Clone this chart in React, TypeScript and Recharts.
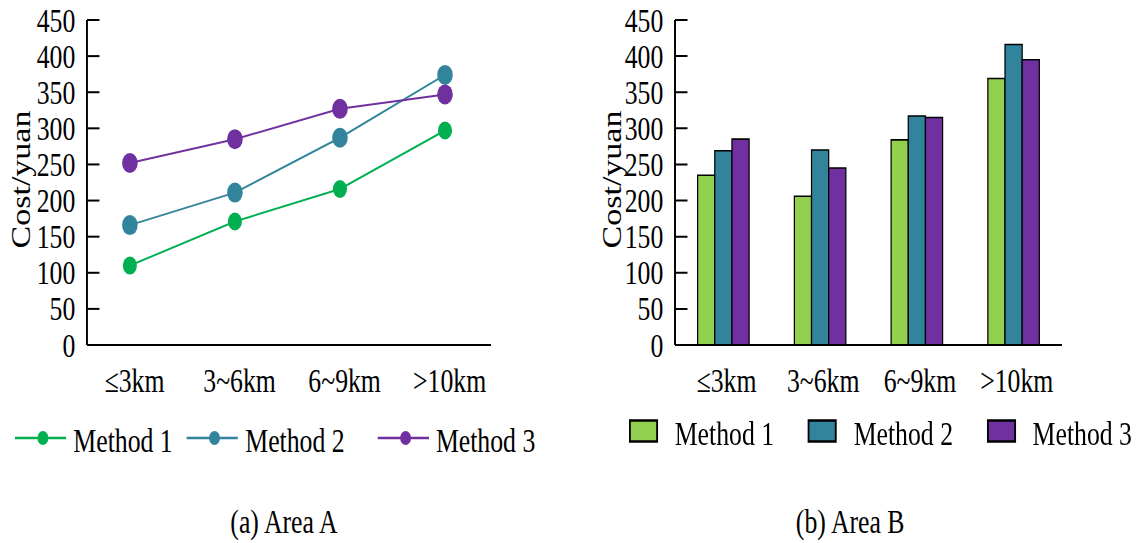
import React from 'react';
import { LineChart, Line, BarChart, Bar, XAxis, YAxis, Legend } from 'recharts';

const categories = ['≤3km', '3~6km', '6~9km', '>10km'];
const yTicks = [0, 50, 100, 150, 200, 250, 300, 350, 400, 450];
const seriesNames = ['Method 1', 'Method 2', 'Method 3'];

// Area A (line chart)
const areaA1 = [110, 171, 216, 297];
const areaA2 = [166, 211, 287, 374];
const areaA3 = [252, 285, 327, 347];

// Area B (bar chart)
const areaB1 = [235, 206, 284, 369];
const areaB2 = [269, 270, 317, 416];
const areaB3 = [285, 245, 315, 395];

const lineColors = ['#00b050', '#31849b', '#7030a0'];
const barColors = ['#92d050', '#31849b', '#7030a0'];
const dotSizes = [9, 10, 10];

const FONT = '"Liberation Serif", "Times New Roman", serif';
const SX = 0.78; // the original figure is squeezed horizontally
const FULL_W = 1136 / SX;

const dataA = categories.map((c, i) => ({ cat: c, m1: areaA1[i], m2: areaA2[i], m3: areaA3[i] }));
const dataB = categories.map((c, i) => ({ cat: c, m1: areaB1[i], m2: areaB2[i], m3: areaB3[i] }));
const keys = ['m1', 'm2', 'm3'];

const YTick = (props: any) => {
  const { x, y, payload } = props;
  return (
    <g>
      <line x1={x + 15} x2={x + 31} y1={y} y2={y} stroke="#000" strokeWidth={2} />
      <text x={x} y={y} dy="0.35em" textAnchor="end" fontSize={33} fontFamily={FONT} fill="#000">
        {payload.value}
      </text>
    </g>
  );
};

const XTick = (props: any) => {
  const { x, y, payload, dx = 0 } = props;
  return (
    <text x={x + dx} y={y + 47} textAnchor="middle" fontSize={33} fontFamily={FONT} fill="#000">
      {payload.value}
    </text>
  );
};

const YLabel = (props: any) => {
  const { viewBox, cx } = props;
  const x = viewBox.x + cx;
  const y = viewBox.y + viewBox.height / 2 - 3;
  return (
    <text
      x={x}
      y={y}
      dy="0.35em"
      transform={`rotate(-90, ${x}, ${y})`}
      textAnchor="middle"
      fontSize={34}
      fontFamily={FONT}
      fill="#000"
    >
      Cost/yuan
    </text>
  );
};

const LineLegend = () => (
  <div style={{ display: 'flex', alignItems: 'center', height: 38, fontFamily: FONT, fontSize: 33, color: '#000' }}>
    {seriesNames.map((n, i) => (
      <div key={n} style={{ display: 'flex', alignItems: 'center', marginRight: i === 0 ? 18 : 42 }}>
        <svg width={66} height={20}>
          <line x1={0} x2={66} y1={10} y2={10} stroke={lineColors[i]} strokeWidth={2.5} />
          <circle cx={36} cy={10} r={7} fill={lineColors[i]} />
        </svg>
        <span style={{ marginLeft: 9, position: 'relative', top: 3, whiteSpace: 'nowrap' }}>{n}</span>
      </div>
    ))}
  </div>
);

const BarLegend = () => (
  <div style={{ display: 'flex', alignItems: 'center', height: 38, fontFamily: FONT, fontSize: 33, color: '#000' }}>
    {seriesNames.map((n, i) => (
      <div key={n} style={{ display: 'flex', alignItems: 'center', marginRight: 43 }}>
        <svg width={38} height={24}>
          <rect x={1.5} y={1.5} width={35} height={21} fill={barColors[i]} stroke="#000" strokeWidth={2.5} />
        </svg>
        <span style={{ marginLeft: 21, position: 'relative', top: 3, whiteSpace: 'nowrap' }}>{n}</span>
      </div>
    ))}
  </div>
);

const captionStyle: React.CSSProperties = {
  position: 'absolute',
  top: 503,
  width: 400,
  textAlign: 'center',
  fontFamily: FONT,
  fontSize: 33,
  lineHeight: '38px',
  color: '#000',
};

export default function App() {
  return (
    <div
      style={{
        position: 'absolute',
        left: 0,
        top: 0,
        width: FULL_W,
        height: 543,
        background: '#fff',
        transform: `scale(${SX}, 1)`,
        transformOrigin: '0 0',
        fontFamily: FONT,
      }}
    >
      <div style={{ position: 'absolute', left: 0, top: 0 }}>
        <LineChart width={730} height={543} data={dataA} margin={{ top: 20, right: 100.5, left: 0, bottom: 138 }}>
          <XAxis
            dataKey="cat"
            height={60}
            padding={{ left: 55, right: 59 }}
            axisLine={{ stroke: '#000', strokeWidth: 2 }}
            tickLine={false}
            tickSize={0}
            tickMargin={0}
            interval={0}
            tick={<XTick dx={6} />}
          />
          <YAxis
            width={111.5}
            domain={[0, 450]}
            ticks={yTicks}
            interval={0}
            axisLine={{ stroke: '#000', strokeWidth: 2.5 }}
            tickLine={false}
            tickSize={0}
            tickMargin={15}
            tick={<YTick />}
            label={<YLabel cx={27} />}
          />
          <Legend
            verticalAlign="middle"
            align="center"
            content={<LineLegend />}
            wrapperStyle={{ left: 19, top: 419, width: 700, height: 38 }}
          />
          {keys.map((k, i) => (
            <Line
              key={k}
              dataKey={k}
              name={seriesNames[i]}
              type="linear"
              stroke={lineColors[i]}
              strokeWidth={2}
              dot={{ r: dotSizes[i], fill: lineColors[i], stroke: 'none' }}
              activeDot={false}
              isAnimationActive={false}
            />
          ))}
        </LineChart>
      </div>

      <div style={{ position: 'absolute', left: 730, top: 0 }}>
        <BarChart
          width={FULL_W - 730}
          height={543}
          data={dataB}
          margin={{ top: 20, right: FULL_W - 1361.5, left: 0, bottom: 138 }}
          barSize={22}
          barGap={0}
        >
          <XAxis
            dataKey="cat"
            height={60}
            axisLine={{ stroke: '#000', strokeWidth: 2 }}
            tickLine={false}
            tickSize={0}
            tickMargin={0}
            interval={0}
            tick={<XTick dx={4} />}
          />
          <YAxis
            width={135.4}
            domain={[0, 450]}
            ticks={yTicks}
            interval={0}
            axisLine={{ stroke: '#000', strokeWidth: 2.5 }}
            tickLine={false}
            tickSize={0}
            tickMargin={15}
            tick={<YTick />}
            label={<YLabel cx={54.6} />}
          />
          <Legend
            verticalAlign="middle"
            align="center"
            content={<BarLegend />}
            wrapperStyle={{ left: 76, top: 412, width: 720, height: 38 }}
          />
          {keys.map((k, i) => (
            <Bar
              key={k}
              dataKey={k}
              name={seriesNames[i]}
              fill={barColors[i]}
              stroke="#000"
              strokeWidth={1.6}
              isAnimationActive={false}
            />
          ))}
        </BarChart>
      </div>

      <div style={{ ...captionStyle, left: 364 - 200 }}>(a) Area A</div>
      <div style={{ ...captionStyle, left: 1090 - 200 }}>(b) Area B</div>
    </div>
  );
}
